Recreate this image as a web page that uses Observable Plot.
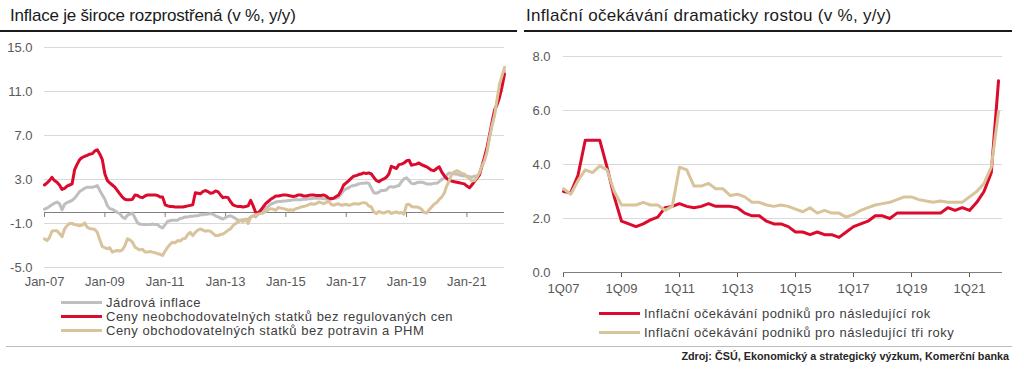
<!DOCTYPE html>
<html>
<head>
<meta charset="utf-8">
<script src="https://cdn.jsdelivr.net/npm/d3@7"></script>
<script src="https://cdn.jsdelivr.net/npm/@observablehq/plot@0.6"></script>
<style>
  html, body { margin: 0; padding: 0; background: #fff; }
  body { width: 1024px; height: 369px; position: relative; overflow: hidden;
         font-family: "Liberation Sans", Arial, Helvetica, sans-serif; }
  .abs { position: absolute; }
  .title { font-size: 17px; color: #1a1a1a; white-space: nowrap; }
  .rule { height: 2px; background: #1a1a1a; }
  .legend { font-size: 13px; color: #404040; white-space: nowrap; letter-spacing: 0.5px; }
  .legrow { position: absolute; left: 0; display: flex; align-items: center; height: 14px; }
  .sw { display: inline-block; width: 41px; height: 3px; margin-right: 4px; }
  .source { font-size: 10.8px; font-weight: bold; color: #262626; white-space: nowrap; }
</style>
</head>
<body>
<div id="root"></div>
<script>
// ---------- Left chart data (monthly, Jan 2007 – Apr 2022) ----------
const leftTitle = "Inflace je široce rozprostřená (v %, y/y)";
const leftSeriesNames = [
  "Jádrová inflace",
  "Ceny neobchodovatelných statků bez regulovaných cen",
  "Ceny obchodovatelných statků bez potravin a PHM"
];
const leftColors = ["#bfbfbf", "#dc0a2d", "#d8c39a"];
const leftStart = [2007, 0];

const coreInflation = [
  0.3, 0.4, 0.55, 0.7, 0.85, 0.95, 0.8, 0.25, 0.75, 0.9, 1.0, 1.1,
  1.3, 1.6, 1.9, 2.05, 2.2, 2.3, 2.3, 2.3, 2.35, 2.45, 2.0, 1.6,
  1.2, 0.6, 0.35, 0.3, 0.15, 0.0, -0.1, -0.4, -0.55, -0.25, -0.15, -0.05,
  -0.5, -0.95, -1.05, -1.1, -1.1, -1.1, -1.1, -1.05, -1.1, -1.1, -1.3, -1.4,
  -1.1, -0.8, -0.75, -0.7, -0.7, -0.7, -0.55, -0.5, -0.4, -0.4, -0.35, -0.35,
  -0.3, -0.3, -0.2, -0.2, -0.15, -0.15, -0.1, -0.15, -0.3, -0.4, -0.5, -0.6,
  -0.45, -0.35, -0.3, -0.4, -0.55, -0.7, -0.7, -0.65, -0.65, -0.6, -0.4, -0.3,
  -0.4, -0.1, 0.0, 0.2, 0.4, 0.55, 0.75, 0.85, 0.95, 1.0, 1.0, 1.05,
  1.05, 1.1, 1.1, 1.15, 1.15, 1.15, 1.15, 1.2, 1.2, 1.25, 1.25, 1.3,
  1.3, 1.3, 1.3, 1.25, 1.25, 1.2, 1.25, 1.3, 1.3, 1.4, 1.7, 2.0,
  2.15, 2.25, 2.4, 2.45, 2.5, 2.6, 2.65, 2.65, 2.7, 2.65, 2.2, 1.8,
  1.75, 1.85, 2.0, 2.0, 2.05, 2.3, 2.35, 2.3, 2.4, 2.45, 2.8, 3.05,
  3.15, 2.9, 2.65, 2.6, 2.7, 2.75, 2.75, 2.7, 2.6, 2.6, 2.6, 2.65,
  2.65, 2.8, 3.0, 3.1, 3.4, 3.6, 3.55, 3.5, 3.5, 3.4, 3.35, 3.35,
  3.3, 3.25, 3.2, 3.3, 3.3, 3.5, 4.2, 4.85, 5.7, 6.9, 8.0, 9.0,
  10.0, 11.0, 11.9, 12.9
];
const nonTradables = [
  2.5, 2.7, 2.9, 3.2, 2.9, 2.75, 2.5, 2.1, 2.2, 2.4, 2.5, 2.6,
  3.9, 4.4, 4.8, 5.0, 5.1, 5.2, 5.3, 5.35, 5.6, 5.7, 5.3, 4.8,
  3.5, 2.9, 2.7, 2.5, 2.3, 2.0, 1.7, 1.4, 1.2, 1.15, 1.15, 1.2,
  1.6, 1.55, 1.4, 1.35, 1.5, 1.6, 1.6, 1.6, 1.6, 1.55, 1.4, 1.4,
  0.7, 0.6, 0.55, 0.55, 0.5, 0.5, 0.5, 0.5, 0.55, 0.6, 0.65, 0.7,
  1.8, 1.75, 1.7, 1.9, 2.0, 1.9, 1.75, 1.8, 1.95, 1.9, 1.6, 1.35,
  1.4, 1.35, 1.0, 0.7, 0.6, 0.55, 0.55, 0.5, 0.55, 0.6, 1.1, 0.6,
  0.0, -0.05, 0.2, 0.5, 0.8, 1.0, 1.2, 1.35, 1.5, 1.5, 1.55, 1.6,
  1.6, 1.55, 1.5, 1.45, 1.5, 1.6, 1.6, 1.5, 1.5, 1.55, 1.6, 1.6,
  1.55, 1.55, 1.55, 1.6, 1.5, 1.3, 1.25, 1.3, 1.45, 1.6, 2.0, 2.5,
  2.7, 2.9, 3.1, 3.3, 3.35, 3.45, 3.5, 3.6, 3.55, 3.6, 3.5, 3.2,
  2.9, 2.8, 2.95, 3.05, 3.2, 3.5, 4.2, 4.1, 4.0, 4.35, 4.4, 4.5,
  4.7, 4.75, 4.3, 4.35, 4.4, 4.5, 4.35, 4.25, 4.15, 4.0, 3.85, 3.8,
  4.0, 4.15, 3.7, 3.35, 3.1, 2.9, 2.85, 2.8, 2.75, 2.7, 2.65, 2.6,
  2.4, 2.25, 2.5, 2.8, 3.1, 3.4, 4.2, 5.0, 5.9, 7.0, 8.2, 9.3,
  9.8, 10.5, 11.4, 12.6
];
const tradables = [
  -2.4, -2.55, -2.3, -1.7, -1.65, -1.65, -1.9, -2.2, -1.5, -1.2, -1.0, -1.0,
  -1.1, -1.15, -1.2, -1.15, -0.95, -1.35, -1.45, -1.5, -1.55, -1.8, -2.5, -3.1,
  -3.2, -3.3, -3.2, -3.6, -3.5, -3.45, -3.5, -3.4, -3.0, -2.4, -2.5, -2.7,
  -3.15, -3.3, -3.4, -3.35, -3.6, -3.6, -3.55, -3.6, -3.65, -3.75, -3.8, -3.9,
  -3.5, -3.15, -2.9, -2.7, -2.75, -2.55, -2.6, -2.4, -2.35, -2.0, -1.8, -2.1,
  -1.8, -1.6, -1.5, -1.6, -1.7, -1.65, -1.7, -1.9, -2.1, -2.1, -2.0, -1.95,
  -1.8, -1.6, -1.5, -1.2, -1.0, -0.9, -0.7, -0.85, -0.6, -1.0, -0.45, -0.3,
  -0.2, -0.15, -0.1, -0.05, 0.1, 0.25, 0.35, 0.3, 0.2, 0.45, 0.4, 0.35,
  0.3, 0.2, 0.25, 0.2, 0.35, 0.4, 0.5, 0.55, 0.6, 0.7, 0.8, 0.75,
  0.8, 0.95, 0.9, 0.8, 0.9, 1.05, 0.75, 0.65, 0.75, 0.8, 0.65, 0.7,
  0.75, 0.65, 0.7, 0.8, 0.8, 0.75, 0.85, 0.9, 0.85, 0.6, 0.5, 0.05,
  -0.1, 0.1, 0.0, -0.05, 0.05, 0.1, -0.1, 0.0, 0.05, -0.05, 0.0, -0.15,
  0.7, 0.75, 0.55, 0.5, 0.5, 0.45, 0.3, 0.0, -0.05, 0.25, 0.5, 0.75,
  0.9, 1.2, 1.4, 1.75, 2.4, 2.9, 3.5, 3.7, 3.8, 3.7, 3.55, 3.5,
  3.25, 3.1, 2.85, 2.9, 3.2, 3.6, 4.2, 4.7, 5.5, 6.8, 7.9, 8.8,
  10.3, 11.7, 12.4, 13.2
];
const leftYTicks = [-5, -1, 3, 7, 11, 15];
const leftXTickYears = [2007, 2009, 2011, 2013, 2015, 2017, 2019, 2021];

// ---------- Right chart data (quarterly, 1Q07 – 1Q22) ----------
const rightTitle = "Inflační očekávání dramaticky rostou (v %, y/y)";
const rightSeriesNames = [
  "Inflační očekávání podniků pro následující rok",
  "Inflační očekávání podniků pro následující tři roky"
];
const rightColors = ["#dc0a2d", "#d8c39a"];
const rightStartYear = 2007;

const expectations1y = [
  3.0, 2.95, 3.6, 4.9, 4.9, 4.9, 3.9, 2.8, 1.9, 1.8,
  1.7, 1.8, 1.95, 2.05, 2.4, 2.45, 2.55, 2.45, 2.4, 2.45,
  2.55, 2.45, 2.45, 2.45, 2.4, 2.2, 2.1, 2.1, 1.9, 1.8,
  1.8, 1.7, 1.5, 1.5, 1.4, 1.5, 1.4, 1.4, 1.3, 1.5,
  1.7, 1.8, 1.9, 2.1, 2.1, 2.0, 2.2, 2.2, 2.2, 2.2,
  2.2, 2.2, 2.2, 2.4, 2.3, 2.4, 2.3, 2.6, 3.0, 3.7,
  7.1
];
const expectations3y = [
  3.1, 2.9, 3.4, 3.8, 3.7, 3.95, 3.8, 3.0, 2.5, 2.5,
  2.5, 2.6, 2.5, 2.5, 2.3, 2.45, 3.9, 3.8, 3.2, 3.2,
  3.3, 3.1, 3.1, 2.85, 2.9, 2.8, 2.6, 2.6, 2.5, 2.45,
  2.5, 2.45, 2.35, 2.25, 2.4, 2.2, 2.3, 2.2, 2.2, 2.05,
  2.15, 2.3, 2.4, 2.5, 2.55, 2.6, 2.7, 2.8, 2.8, 2.7,
  2.65, 2.6, 2.65, 2.6, 2.6, 2.6, 2.8, 3.0, 3.3, 3.9,
  5.95
];
const rightYTicks = [0, 2, 4, 6, 8];
const rightXTickYears = [2007, 2009, 2011, 2013, 2015, 2017, 2019, 2021];

const sourceText = "Zdroj: ČSÚ, Ekonomický a strategický výzkum, Komerční banka";

// ---------- build tables ----------
const monthDate = i => new Date(Date.UTC(leftStart[0], leftStart[1] + i, 1));
const leftData = [];
[coreInflation, nonTradables, tradables].forEach((arr, s) =>
  arr.forEach((v, i) => leftData.push({series: leftSeriesNames[s], date: monthDate(i), value: v})));
const rightData = [];
[expectations1y, expectations3y].forEach((arr, s) =>
  arr.forEach((v, i) => rightData.push({series: rightSeriesNames[s], t: rightStartYear + i / 4, value: v})));

const FONT = '"Liberation Sans", Arial, Helvetica, sans-serif';
const root = document.getElementById("root");

function place(el, css) { el.classList.add("abs"); Object.assign(el.style, css); root.appendChild(el); return el; }
function div(cls, text, css) { const d = document.createElement("div"); if (cls) d.className = cls; if (text) d.textContent = text; return place(d, css); }

// ---------- titles and rules ----------
div("title", leftTitle, {left: "10px", top: "6px", letterSpacing: "-0.2px"});
div("rule", "", {left: "0px", top: "30px", width: "517px"});
div("title", rightTitle, {left: "526px", top: "6px", letterSpacing: "0.3px"});
div("rule", "", {left: "524px", top: "30px", width: "488px"});

// ---------- left plot ----------
const leftN = coreInflation.length;
const leftPlot = Plot.plot({
  width: 512, height: 260,
  marginTop: 11, marginBottom: 29, marginLeft: 44, marginRight: 8,
  style: {fontFamily: FONT, fontSize: "13px", color: "#595959", background: "transparent", overflow: "visible"},
  x: {type: "utc", domain: [monthDate(0), monthDate(leftN - 0.5)], ticks: leftXTickYears.map(y => new Date(Date.UTC(y, 0, 1))),
      tickFormat: d3.utcFormat("%b-%y"), tickSize: 0, tickPadding: 9, label: null},
  y: {domain: [-5, 15], ticks: leftYTicks, tickFormat: d => d.toFixed(1), tickSize: 0, tickPadding: 12, label: null},
  color: {domain: leftSeriesNames, range: leftColors},
  marks: [
    Plot.ruleY(leftYTicks, {stroke: "#d9d9d9"}),
    Plot.ruleY([0], {stroke: "#7f7f7f"}),
    Plot.ruleX(leftXTickYears.map(y => new Date(Date.UTC(y, 0, 1))), {x: d => d, y1: 0, y2: -5 / 11, stroke: "#7f7f7f"}),
    Plot.line(leftData, {x: "date", y: "value", z: "series", stroke: "series", strokeWidth: 3, strokeLinejoin: "round"})
  ]
});
place(leftPlot, {left: "0px", top: "36px"});

// ---------- right plot ----------
const rightN = expectations1y.length;
const rightPlot = Plot.plot({
  width: 512, height: 260,
  marginTop: 20, marginBottom: 24, marginLeft: 51, marginRight: 22,
  style: {fontFamily: FONT, fontSize: "13px", color: "#595959", background: "transparent", overflow: "visible"},
  x: {domain: [rightStartYear, rightStartYear + (rightN - 0.45) / 4], ticks: rightXTickYears,
      tickFormat: d => "1Q" + String(d % 100).padStart(2, "0"), tickSize: 5, tickPadding: 6, label: null},
  y: {domain: [0, 8], ticks: rightYTicks, tickFormat: d => d.toFixed(1), tickSize: 0, tickPadding: 13, label: null},
  color: {domain: rightSeriesNames, range: rightColors},
  marks: [
    Plot.ruleY(rightYTicks.filter(d => d !== 0), {stroke: "#d9d9d9"}),
    Plot.ruleY([0], {stroke: "#7f7f7f"}),
    Plot.line(rightData, {x: "t", y: "value", z: "series", stroke: "series", strokeWidth: 3, strokeLinejoin: "round"})
  ]
});
place(rightPlot, {left: "512px", top: "36px"});

// ---------- legends ----------
const leftLeg = div("legend", "", {left: "61px", top: "295px", width: "450px", height: "45px"});
leftSeriesNames.forEach((name, i) => {
  const row = document.createElement("div"); row.className = "legrow"; row.style.top = (i * 14) + "px";
  const sw = document.createElement("span"); sw.className = "sw"; sw.style.background = leftColors[i];
  const tx = document.createElement("span"); tx.textContent = name;
  row.appendChild(sw); row.appendChild(tx); leftLeg.appendChild(row);
});
const rightLeg = div("legend", "", {left: "599px", top: "306px", width: "410px", height: "40px"});
rightSeriesNames.forEach((name, i) => {
  const row = document.createElement("div"); row.className = "legrow"; row.style.top = (i * 19) + "px";
  const sw = document.createElement("span"); sw.className = "sw"; sw.style.background = rightColors[i];
  const tx = document.createElement("span"); tx.textContent = name;
  row.appendChild(sw); row.appendChild(tx); rightLeg.appendChild(row);
});

// ---------- bottom rule and source ----------
div("", "", {left: "6px", top: "346px", width: "1006px", height: "1px", background: "#bdbdbd"});
div("source", sourceText, {right: "15px", top: "350px"});
</script>
</body>
</html>
